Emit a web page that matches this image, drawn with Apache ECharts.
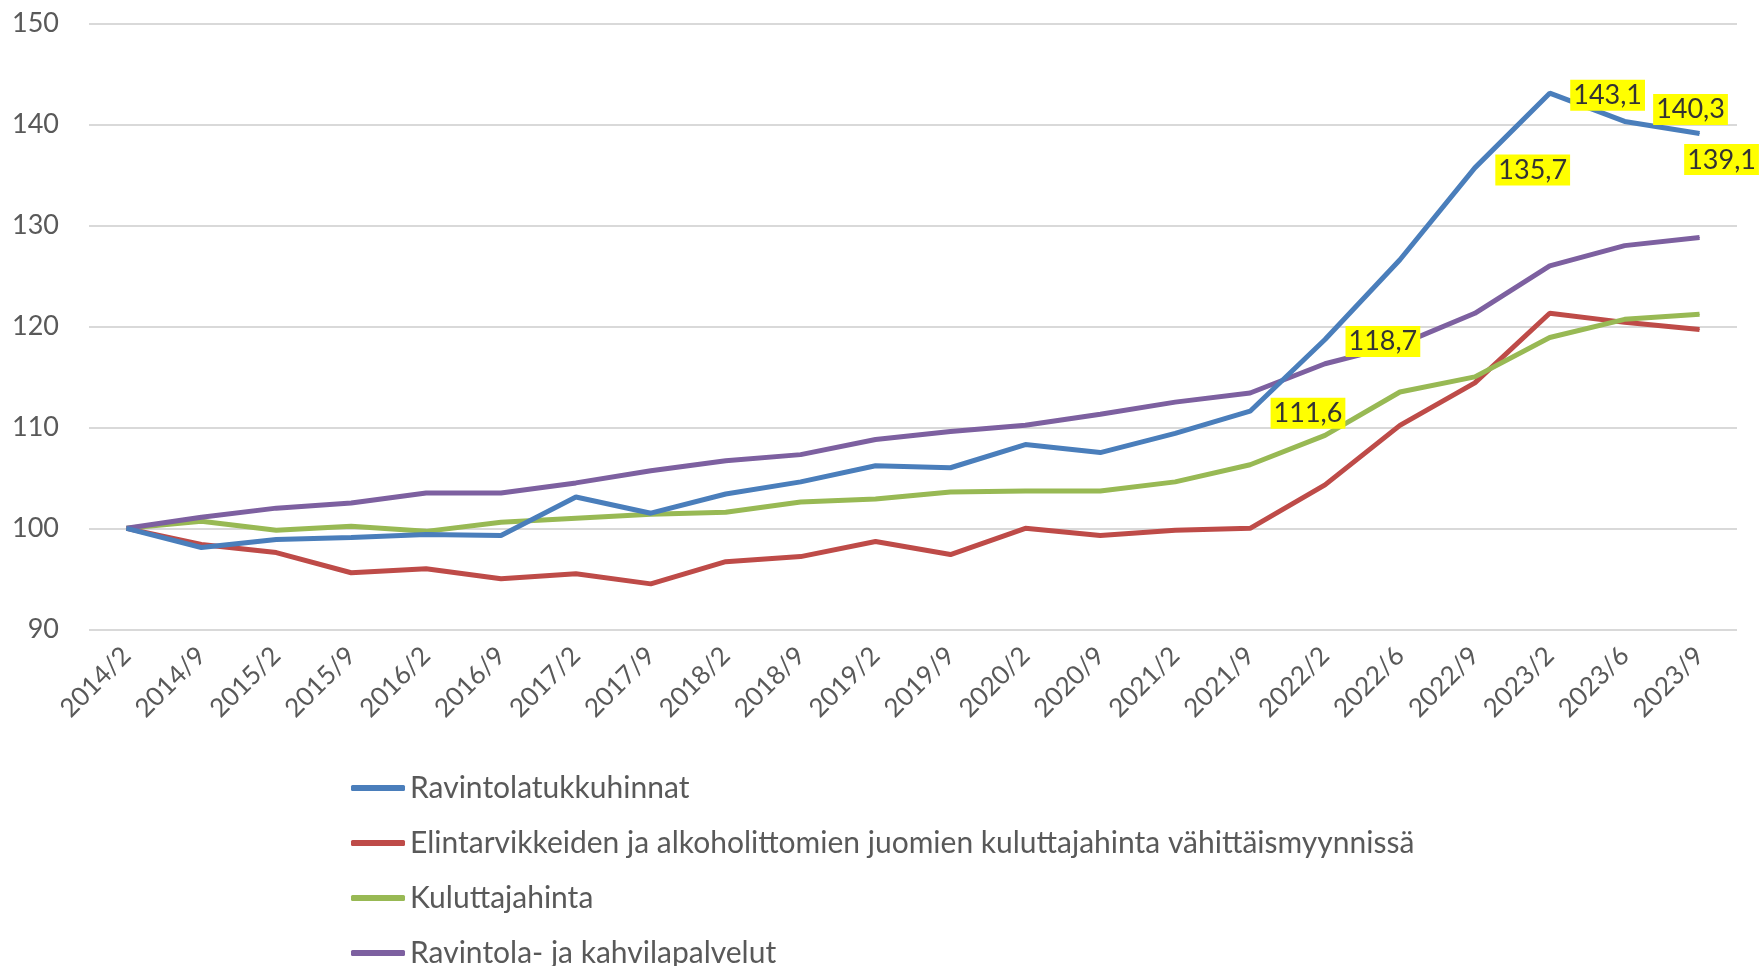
<!DOCTYPE html>
<html>
<head>
<meta charset="utf-8">
<script src="https://cdn.jsdelivr.net/npm/echarts@6/dist/echarts.min.js"></script>
<style>
  html, body { margin: 0; padding: 0; background: #fff; }
  #chart { width: 1762px; height: 966px; }
</style>
</head>
<body>
<div id="chart"></div>
<script>
// ===================================================
//  DATA
// ===================================================
const categories = ['2014/2', '2014/9', '2015/2', '2015/9', '2016/2', '2016/9', '2017/2', '2017/9',
    '2018/2', '2018/9', '2019/2', '2019/9', '2020/2', '2020/9', '2021/2', '2021/9',
    '2022/2', '2022/6', '2022/9', '2023/2', '2023/6', '2023/9'];

const ravintolatukku = [100, 98.1, 98.9, 99.1, 99.4, 99.3, 103.1, 101.5, 103.4, 104.6, 106.2,
    106.0, 108.3, 107.5, 109.4, 111.6, 118.7, 126.6, 135.7, 143.1, 140.3, 139.1];
const elintarvike = [100, 98.4, 97.6, 95.6, 96.0, 95.0, 95.5, 94.5, 96.7, 97.2, 98.7,
    97.4, 100.0, 99.3, 99.8, 100.0, 104.3, 110.2, 114.4, 121.3, 120.4, 119.7];
const kuluttajahinta = [100, 100.7, 99.8, 100.2, 99.7, 100.6, 101.0, 101.4, 101.6, 102.6, 102.9,
    103.6, 103.7, 103.7, 104.6, 106.3, 109.2, 113.5, 115.0, 118.9, 120.7, 121.2];
const ravintolaKahvila = [100, 101.1, 102.0, 102.5, 103.5, 103.5, 104.5, 105.7, 106.7, 107.3, 108.8,
    109.6, 110.2, 111.3, 112.5, 113.4, 116.3, 118.2, 121.3, 126.0, 128.0, 128.8];

// pisteet joissa arvo näytetään (Ravintolatukkuhinnat)
const labeledIdx = [15, 16, 18, 19, 20, 21];

const yMin = 90, yMax = 150, yStep = 10;

const seriesNames = [
    'Ravintolatukkuhinnat',
    'Elintarvikkeiden ja alkoholittomien juomien kuluttajahinta vähittäismyynnissä',
    'Kuluttajahinta',
    'Ravintola- ja kahvilapalvelut'
];
const colors = ['#4a7ebb', '#be4b48', '#98b954', '#7d60a0'];

// ===================================================
//  CHART
// ===================================================
(function () {
    const el = document.getElementById('chart');
    const chart = echarts.init(el);
    const font = 'Lato, "Liberation Sans", sans-serif';
    const gray = '#595959';

    // erityissijainnit muutamalle tarralle
    const labelTweaks = {
        20: { offset: [8, -12] },
        21: { position: 'bottom', distance: 10, offset: [22, 0] }
    };

    const blueData = ravintolatukku.map((v, i) => {
        if (!labeledIdx.includes(i)) return v;
        return {
            value: v,
            label: Object.assign({
                show: true,
                position: 'right',
                distance: 20,
                offset: [0, 2],
                formatter: p => String(p.value).replace('.', ','),
                backgroundColor: '#ffff00',
                color: '#333',
                fontFamily: font,
                fontSize: 27,
                padding: [3, 3, 1, 3]
            }, labelTweaks[i] || {})
        };
    });

    function lineSeries(name, data, color, z) {
        return {
            name: name,
            type: 'line',
            data: data,
            z: z,
            symbol: 'circle',
            symbolSize: 1,
            showSymbol: true,
            showAllSymbol: true,
            itemStyle: { color: color },
            lineStyle: { color: color, width: 5 },
            emphasis: { disabled: true },
            animation: false
        };
    }

    const option = {
        backgroundColor: '#fff',
        animation: false,
        color: colors,
        grid: { left: 89, right: 25, top: 23.5, bottom: 336.7, containLabel: false },
        legend: {
            orient: 'vertical',
            left: 346,
            top: 768,
            height: 400,
            itemGap: 25,
            itemWidth: 54,
            itemHeight: 6,
            icon: 'roundRect',
            data: seriesNames,
            textStyle: { color: gray, fontFamily: font, fontSize: 30, lineHeight: 30 }
        },
        xAxis: {
            type: 'category',
            data: categories,
            boundaryGap: true,
            axisLine: { show: false },
            axisTick: { show: false },
            axisLabel: {
                rotate: 45,
                margin: 22,
                color: gray,
                fontFamily: font,
                fontSize: 26,
                interval: 0
            }
        },
        yAxis: {
            type: 'value',
            min: yMin,
            max: yMax,
            interval: yStep,
            axisLine: { show: false },
            axisTick: { show: false },
            axisLabel: { color: gray, fontFamily: font, fontSize: 27, margin: 30 },
            splitLine: { lineStyle: { color: '#d9d9d9', width: 2 } }
        },
        series: [
            lineSeries(seriesNames[0], blueData, colors[0], 3),
            lineSeries(seriesNames[1], elintarvike, colors[1], 2),
            lineSeries(seriesNames[2], kuluttajahinta, colors[2], 2),
            lineSeries(seriesNames[3], ravintolaKahvila, colors[3], 2)
        ]
    };

    chart.setOption(option);
})();
</script>
</body>
</html>
